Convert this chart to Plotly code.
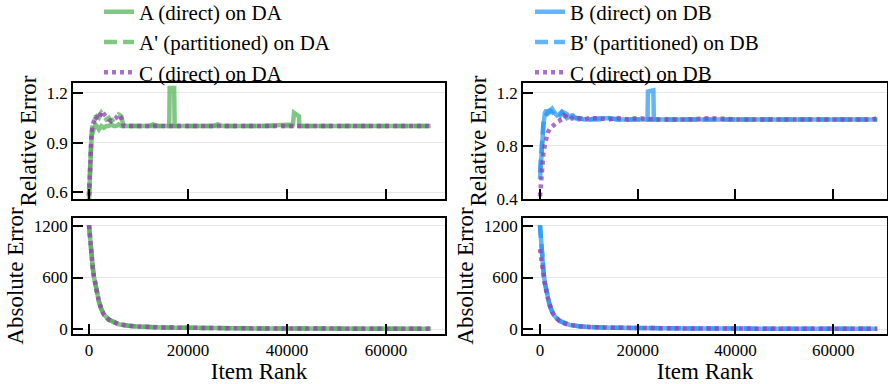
import plotly.graph_objects as go

# ---------------- data ----------------
# Relative error, panel DA
rank_rel_a = [0, 150, 300, 500, 700, 1000, 1300, 1600, 2000, 2500, 3000, 3500, 4000, 4500, 5000,
              5500, 6000, 6500, 7000, 8000, 10000, 12000, 13000, 14000, 16200, 16300, 17200, 17300,
              20000, 25000, 26000, 27000, 30000, 35000, 41200, 41400, 42400, 42500, 45000, 50000,
              55000, 60000, 65000, 69000]
rel_A = [0.56, 0.72, 0.85, 0.92, 0.96, 1.0, 1.01, 1.0, 0.98, 1.0, 0.99, 1.0, 1.0, 1.01, 1.0,
         1.0, 1.01, 1.0, 1.0, 1.0, 1.0, 1.0, 1.01, 1.0, 1.0, 1.23, 1.23, 1.0,
         1.0, 1.0, 1.01, 1.0, 1.0, 1.0, 1.01, 1.08, 1.06, 1.0, 1.0, 1.0,
         1.0, 1.0, 1.0, 1.0]
rel_Ap = [0.58, 0.75, 0.88, 0.95, 1.0, 1.03, 1.05, 1.06, 1.05, 1.08, 1.06, 1.04, 1.05, 1.03, 1.04,
          1.05, 1.07, 1.06, 1.0, 1.0, 1.0, 1.0, 1.0, 1.0, 1.0, 1.0, 1.0, 1.0,
          1.0, 1.0, 1.0, 1.0, 1.0, 1.0, 1.0, 1.0, 1.0, 1.0, 1.0, 1.0,
          1.0, 1.0, 1.0, 1.0]
rel_Ca = [0.58, 0.74, 0.87, 0.95, 1.0, 1.04, 1.06, 1.05, 1.04, 1.09, 1.07, 1.05, 1.04, 1.03, 1.04,
          1.05, 1.07, 1.05, 1.0, 1.0, 1.0, 1.0, 1.0, 1.0, 1.0, 1.0, 1.0, 1.0,
          1.0, 1.0, 1.0, 1.0, 1.0, 1.0, 1.0, 1.0, 1.0, 1.0, 1.0, 1.0,
          1.0, 1.0, 1.0, 1.0]

# Relative error, panel DB
rank_rel_b = [0, 150, 300, 500, 700, 1000, 1300, 1600, 2000, 2500, 3000, 3500, 4000, 4500, 5000,
              5500, 6000, 6500, 7000, 8000, 9000, 10000, 12000, 14000, 16000, 18000, 20000, 22000,
              22100, 23200, 23300, 25000, 30000, 35000, 40000, 45000, 50000, 55000, 60000, 65000,
              68000, 69000]
rel_B = [0.55, 0.66, 0.76, 0.86, 0.95, 1.05, 1.07, 1.04, 1.06, 1.08, 1.05, 1.03, 1.04, 1.06, 1.05,
         1.04, 1.02, 1.03, 1.01, 1.01, 1.0, 1.0, 1.01, 1.01, 1.0, 1.0, 1.0, 1.0,
         1.21, 1.22, 1.0, 1.0, 1.0, 1.0, 1.0, 1.0, 1.0, 1.0, 1.0, 1.0,
         1.0, 1.0]
rel_Bp = [0.6, 0.7, 0.8, 0.9, 0.97, 1.01, 1.04, 1.06, 1.07, 1.05, 1.04, 1.03, 1.02, 1.05, 1.03,
          1.01, 1.02, 1.04, 1.02, 1.0, 1.01, 1.0, 1.0, 1.01, 1.0, 1.0, 1.0, 1.0,
          1.0, 1.0, 1.0, 1.0, 1.0, 1.0, 1.0, 1.0, 1.0, 1.0, 1.0, 1.0,
          1.0, 1.0]
rel_Cb = [0.42, 0.5, 0.58, 0.67, 0.74, 0.81, 0.86, 0.9, 0.93, 0.95, 0.97, 0.98, 0.99, 1.0, 1.03,
          1.02, 1.0, 1.01, 1.0, 1.01, 1.0, 1.01, 1.01, 1.0, 1.01, 1.0, 1.01, 1.0,
          1.0, 1.0, 1.0, 1.0, 1.0, 1.01, 1.0, 1.0, 1.0, 1.0, 1.0, 1.0,
          1.0, 1.01]

# Absolute error
rank_abs = [0, 250, 500, 750, 1000, 1500, 2000, 2500, 3000, 4000, 5000, 6000, 8000, 10000,
            15000, 20000, 30000, 40000, 50000, 60000, 69000]
abs_A = [1210, 1000, 850, 720, 610, 440, 320, 230, 170, 110, 75, 55, 38, 28, 18, 12, 8, 6, 4, 3, 2]
abs_Ap = [1210, 1000, 850, 720, 610, 440, 320, 230, 170, 110, 75, 55, 38, 28, 18, 12, 8, 6, 4, 3, 2]
abs_Ca = [1210, 1000, 850, 720, 610, 440, 320, 230, 170, 110, 75, 55, 38, 28, 18, 12, 8, 6, 4, 3, 2]
abs_B = [1210, 980, 800, 650, 540, 380, 270, 200, 150, 95, 65, 48, 33, 24, 15, 10, 7, 5, 4, 3, 2]
abs_Bp = [1210, 980, 800, 650, 540, 380, 270, 200, 150, 95, 65, 48, 33, 24, 15, 10, 7, 5, 4, 3, 2]
abs_Cb = [930, 820, 720, 620, 530, 380, 270, 200, 150, 95, 65, 48, 33, 24, 15, 10, 7, 5, 4, 3, 2]

x_ticks = [0, 20000, 40000, 60000]
x_tick_labels = ["0", "20000", "40000", "60000"]

# ---------------- style ----------------
GREEN = "rgba(76,175,80,0.7)"
BLUE = "rgba(33,150,243,0.7)"
PURPLE = "rgba(150,60,180,0.75)"
LW = 4.5
DASH = "13px,6px"
DOT = "4px,4px"
FONT = "Liberation Serif"

fig = go.Figure()

def add(x, y, name, color, dash, xa, ya, legend, show):
    fig.add_trace(go.Scatter(
        x=x, y=y, name=name, mode="lines",
        line=dict(color=color, width=LW, dash=dash),
        xaxis=xa, yaxis=ya, legend=legend, showlegend=show, legendgroup=name + legend,
    ))

# left panel
add(rank_rel_a, rel_A, "A (direct) on DA", GREEN, "solid", "x", "y", "legend", True)
add(rank_rel_a, rel_Ap, "A' (partitioned) on DA", GREEN, DASH, "x", "y", "legend", True)
add(rank_rel_a, rel_Ca, "C (direct) on DA", PURPLE, DOT, "x", "y", "legend", True)
add(rank_abs, abs_A, "A (direct) on DA", GREEN, "solid", "x2", "y2", "legend", False)
add(rank_abs, abs_Ap, "A' (partitioned) on DA", GREEN, DASH, "x2", "y2", "legend", False)
add(rank_abs, abs_Ca, "C (direct) on DA", PURPLE, DOT, "x2", "y2", "legend", False)
# right panel
add(rank_rel_b, rel_B, "B (direct) on DB", BLUE, "solid", "x3", "y3", "legend2", True)
add(rank_rel_b, rel_Bp, "B' (partitioned) on DB", BLUE, DASH, "x3", "y3", "legend2", True)
add(rank_rel_b, rel_Cb, "C (direct) on DB", PURPLE, DOT, "x3", "y3", "legend2", True)
add(rank_abs, abs_B, "B (direct) on DB", BLUE, "solid", "x4", "y4", "legend2", False)
add(rank_abs, abs_Bp, "B' (partitioned) on DB", BLUE, DASH, "x4", "y4", "legend2", False)
add(rank_abs, abs_Cb, "C (direct) on DB", PURPLE, DOT, "x4", "y4", "legend2", False)

W, H = 888, 384
L_DOM = [73 / W, 445 / W]
R_DOM = [523 / W, 887 / W]
TOP_DOM = [1 - 199 / H, 1 - 83 / H]
BOT_DOM = [1 - 334 / H, 1 - 218 / H]

tick_font = dict(family=FONT, size=17, color="black")
title_font = dict(family=FONT, size=23, color="black")

common_x = dict(showline=True, linecolor="black", linewidth=1.5, mirror=True,
                ticks="inside", ticklen=10, tickwidth=2, tickcolor="black",
                tickvals=x_ticks, ticktext=x_tick_labels, tickfont=tick_font,
                showgrid=False, zeroline=False, automargin=False)
common_y = dict(showline=True, linecolor="black", linewidth=1.5, mirror=True,
                ticks="inside", ticklen=10, tickwidth=2, tickcolor="black",
                tickfont=tick_font, showgrid=True, gridcolor="#e8e8e8", gridwidth=1,
                zeroline=False, title_font=title_font, title_standoff=4, automargin=False)

legend_common = dict(y=1.022, xanchor="left", yanchor="top", orientation="v",
                     bgcolor="rgba(0,0,0,0)", font=dict(family=FONT, size=21, color="black"),
                     tracegroupgap=0, itemwidth=30)

fig.update_layout(
    width=W, height=H, margin=dict(l=0, r=0, t=0, b=0, autoexpand=False),
    paper_bgcolor="white", plot_bgcolor="white",
    font=dict(family=FONT, color="black"),
    xaxis=dict(domain=L_DOM, anchor="y", range=[-3230, 71900], showticklabels=False, **common_x),
    yaxis=dict(domain=TOP_DOM, anchor="x", range=[0.56, 1.26], tickvals=[0.6, 0.9, 1.2],
               ticktext=["0.6", "0.9", "1.2"], title_text="Relative Error", **common_y),
    xaxis2=dict(domain=L_DOM, anchor="y2", range=[-3230, 71900], matches="x",
                title_text="Item Rank", title_font=title_font, title_standoff=1, **common_x),
    yaxis2=dict(domain=BOT_DOM, anchor="x2", range=[-58, 1293], tickvals=[0, 600, 1200],
                ticktext=["0", "600", "1200"], title_text="Absolute Error", **common_y),
    xaxis3=dict(domain=R_DOM, anchor="y3", range=[-3470, 71000], showticklabels=False, **common_x),
    yaxis3=dict(domain=TOP_DOM, anchor="x3", range=[0.4, 1.275], tickvals=[0.4, 0.8, 1.2],
                ticktext=["0.4", "0.8", "1.2"], title_text="Relative Error", **common_y),
    xaxis4=dict(domain=R_DOM, anchor="y4", range=[-3470, 71000], matches="x3",
                title_text="Item Rank", title_font=title_font, title_standoff=1, **common_x),
    yaxis4=dict(domain=BOT_DOM, anchor="x4", range=[-58, 1293], tickvals=[0, 600, 1200],
                ticktext=["0", "600", "1200"], title_text="Absolute Error", **common_y),
    legend=dict(x=99 / W, **legend_common),
    legend2=dict(x=530 / W, **legend_common),
)

fig.write_html("out.html", config={"displayModeBar": False},
               post_script="document.body.style.margin='0';")
